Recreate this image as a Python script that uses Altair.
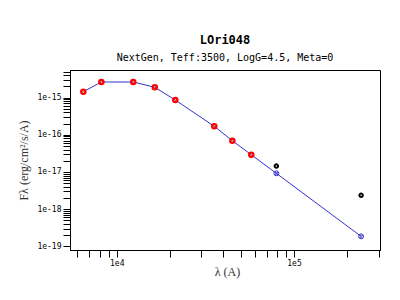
import altair as alt
import pandas as pd

# Model SED (NextGen) wavelengths (Angstrom) and fluxes
model_wave = [6480, 8190, 12400, 16400, 21400, 35500, 44900, 57400, 79500, 239000]
model_flux = [1.44e-15, 2.63e-15, 2.63e-15, 1.89e-15, 8.6e-16, 1.69e-16, 6.92e-17, 2.9e-17, 9.17e-18, 1.85e-19]

# Observed fluxes used in the fit (red)
fit_wave = [6480, 8190, 12400, 16400, 21400, 35500, 44900, 57400]
fit_flux = [1.44e-15, 2.63e-15, 2.63e-15, 1.89e-15, 8.6e-16, 1.69e-16, 6.92e-17, 2.9e-17]

# Observed fluxes not used in the fit (black)
ex_wave = [79500, 239000]
ex_flux = [1.44e-17, 2.35e-18]

# Axis ticks
x_ticks = [6000, 7000, 8000, 9000, 10000, 20000, 30000, 40000, 50000, 60000,
           70000, 80000, 90000, 100000, 200000, 300000]
y_ticks = [m * 10.0 ** e for e in range(-19, -14) for m in range(1, 10)]
y_ticks = [v for v in y_ticks if v < 5.5e-15]

model_df = pd.DataFrame({"w": model_wave, "f": model_flux})
model_pts = model_df.iloc[8:]
fit_df = pd.DataFrame({"w": fit_wave, "f": fit_flux})
ex_df = pd.DataFrame({"w": ex_wave, "f": ex_flux})

label_expr = ("abs(log(datum.value)/LN10 - round(log(datum.value)/LN10)) < 1e-6 ? "
              "'1e' + round(log(datum.value)/LN10) : ''")

x_enc = alt.X(
    "w:Q",
    scale=alt.Scale(type="log", domain=[5450, 305500], nice=False),
    axis=alt.Axis(
        values=x_ticks, labelExpr=label_expr, tickSize=7, tickColor="black",
        tickWidth=1, domainColor="black", labelFont="DejaVu Sans Mono",
        labelFontSize=8, labelColor="black", labelPadding=2, grid=False,
        labelOverlap=False, labelFlush=False,
        title="λ (A)", titleFont="Liberation Serif", titleFontSize=12,
        titleFontWeight="normal", titleColor="#333333",
        titleX=157, titleY=21, titleBaseline="middle", titleAlign="center",
    ),
)
y_enc = alt.Y(
    "f:Q",
    scale=alt.Scale(type="log", domain=[7.95e-20, 5.53e-15], nice=False),
    axis=alt.Axis(
        values=y_ticks, labelExpr=label_expr, tickSize=7, tickColor="black",
        tickWidth=1, domainColor="black", labelFont="DejaVu Sans Mono",
        labelFontSize=8, labelColor="black", labelPadding=2, grid=False,
        labelOverlap=False, labelFlush=False,
        title="Fλ (erg/cm²/s/A)", titleFont="Liberation Serif", titleFontSize=12,
        titleFontWeight="normal", titleColor="#333333",
        titleX=-47, titleY=90, titleAngle=270, titleBaseline="middle",
        titleAlign="center",
    ),
)

blue = "#3232c8"

line = alt.Chart(model_df).mark_line(color=blue, strokeWidth=1).encode(x=x_enc, y=y_enc)
model_circ = alt.Chart(model_pts).mark_point(
    shape="circle", filled=False, color=blue, size=24, strokeWidth=1, opacity=1
).encode(x=x_enc, y=y_enc)
model_cross = alt.Chart(model_pts).mark_point(
    shape="cross", filled=False, color=blue, size=8, strokeWidth=0.8, angle=45, opacity=1
).encode(x=x_enc, y=y_enc)
fit_pts = alt.Chart(fit_df).mark_point(
    shape="circle", filled=False, color="#ff0000", size=18, strokeWidth=2.3, opacity=1
).encode(x=x_enc, y=y_enc)
ex_pts = alt.Chart(ex_df).mark_point(
    shape="circle", filled=False, color="black", size=12, strokeWidth=2.0, opacity=1
).encode(x=x_enc, y=y_enc)

chart = alt.layer(line, model_circ, model_cross, fit_pts, ex_pts).properties(
    width=310,
    height=180,
    autosize=alt.AutoSizeParams(type="none"),
    padding={"left": 62, "top": 62, "right": 4, "bottom": 36},
    background="white",
    title=alt.TitleParams(
        "LOri048",
        subtitle="NextGen, Teff:3500, LogG=4.5, Meta=0",
        font="DejaVu Sans Mono", fontSize=12, fontWeight="bold", color="black",
        subtitleFont="DejaVu Sans Mono", subtitleFontSize=10, subtitleColor="black",
        anchor="middle", offset=4, subtitlePadding=6,
    ),
).configure_view(stroke="black", strokeWidth=1)

chart.save("out.html", embed_options={"renderer": "svg", "actions": False})
